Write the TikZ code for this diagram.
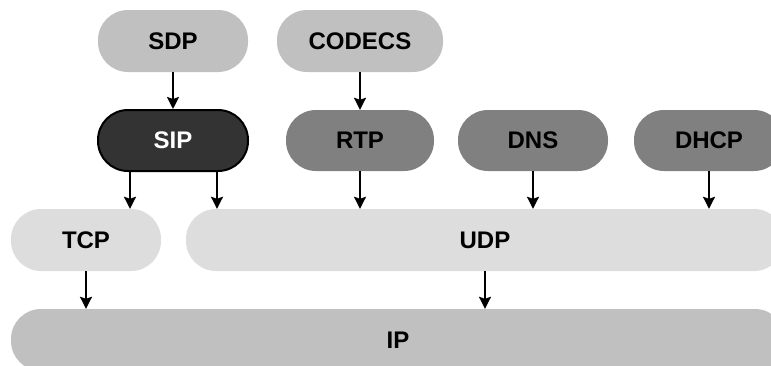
\documentclass[tikz,border=0pt]{standalone}
\usepackage{fontspec}
\setmainfont{Liberation Sans}
\usetikzlibrary{arrows.meta}
\definecolor{midgray}{HTML}{C0C0C0}
\definecolor{darkgray}{HTML}{808080}
\definecolor{palegray}{HTML}{DDDDDD}
\definecolor{sipfill}{HTML}{333333}
\begin{document}
\begin{tikzpicture}[x=1pt,y=-1pt,
  box/.style={rectangle, rounded corners=30pt, minimum height=62pt, inner sep=0pt,
    font=\fontsize{24}{24}\selectfont\bfseries, text=black},
  arr/.style={draw=black, line width=2.2pt, -{Stealth[length=12pt,width=12pt,inset=2pt]}}]
\useasboundingbox (0,0) rectangle (771,365);
\clip (0,0) rectangle (771,365);
% top row
\node[box, fill=midgray, minimum width=150pt] (sdp) at (173,41) {SDP};
\node[box, fill=midgray, minimum width=166pt] (codecs) at (360,41) {CODECS};
% second row
\node[box, fill=sipfill, draw=black, line width=2pt, text=white, minimum width=150pt, minimum height=61pt] (sip) at (173,140.5) {SIP};
\node[box, fill=darkgray, minimum width=148pt, minimum height=61pt] (rtp) at (360,140.5) {RTP};
\node[box, fill=darkgray, minimum width=150pt, minimum height=61pt] (dns) at (533,140.5) {DNS};
\node[box, fill=darkgray, minimum width=150pt, minimum height=61pt] (dhcp) at (709,140.5) {DHCP};
% transport
\node[box, fill=palegray, minimum width=150pt] (tcp) at (86,240) {TCP};
\node[box, fill=palegray, minimum width=598pt] (udp) at (485,240) {UDP};
% network
\node[box, fill=midgray, minimum width=774pt] (ip) at (398,340) {IP};
% connectors
\draw[arr] (sdp) -- (sip);
\draw[arr] (codecs) -- (rtp);
\draw[arr] ([xshift=-43pt]sip.south) -- ([xshift=-43pt]sip.south |- tcp.north);
\draw[arr] ([xshift=44pt]sip.south) -- ([xshift=44pt]sip.south |- udp.north);
\draw[arr] (rtp.south) -- (rtp.south |- udp.north);
\draw[arr] (dns.south) -- (dns.south |- udp.north);
\draw[arr] (dhcp.south) -- (dhcp.south |- udp.north);
\draw[arr] (tcp.south) -- (tcp.south |- ip.north);
\draw[arr] (udp.south) -- (udp.south |- ip.north);
\end{tikzpicture}
\end{document}
